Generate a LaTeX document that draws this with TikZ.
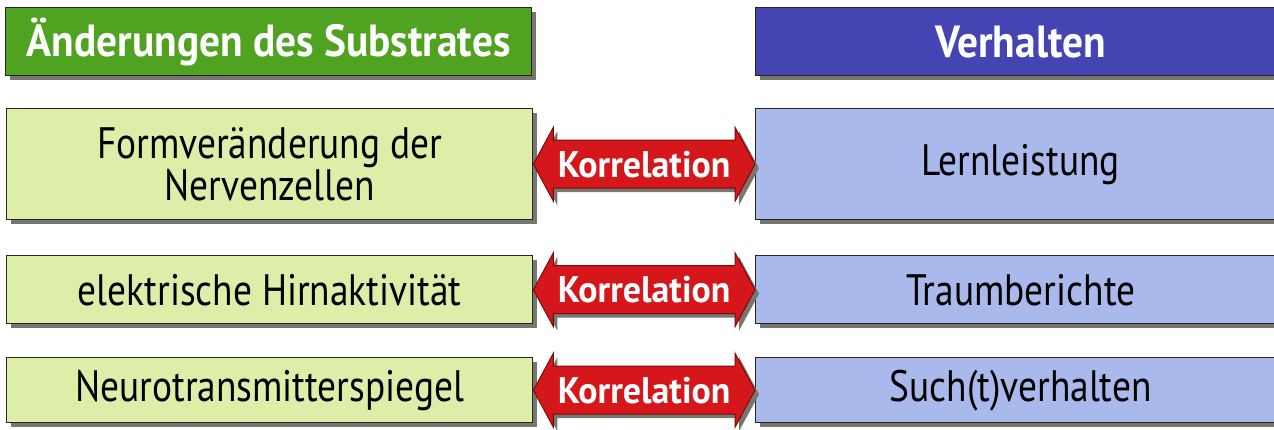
\documentclass[tikz,border=0pt]{standalone}
\usepackage{fontspec}
\setmainfont{PT Sans}
\newfontfamily\rowfont[FakeStretch=0.85]{PT Sans}
\newfontfamily\headfont[FakeStretch=0.92]{PT Sans Bold}
\newfontfamily\corrfont[FakeStretch=0.97]{PT Sans Bold}
\usetikzlibrary{calc,shadows}
\definecolor{hgreen}{HTML}{4FA321}
\definecolor{hblue}{HTML}{4444B2}
\definecolor{lgreen}{HTML}{DDEEA9}
\definecolor{lblue}{HTML}{A9B9EC}
\definecolor{ared}{HTML}{D5161A}
\definecolor{adark}{HTML}{7A0A0A}
\definecolor{shad}{HTML}{77776F}
\begin{document}
\begin{tikzpicture}[x=1pt,y=-1pt,
  shd/.style={drop shadow={shadow xshift=4pt,shadow yshift=-4pt,fill=shad,opacity=1}},
  box/.style={draw=black!85,line width=1.4pt,inner sep=0pt,anchor=north west,align=center,shd,
    font=\rowfont\fontsize{44}{42}\selectfont},
  lbox/.style={box,fill=lgreen,minimum width=526pt},
  rbox/.style={box,fill=lblue,minimum width=530pt},
  head/.style={box,text=white,font=\headfont\fontsize{45}{45}\selectfont},
  corr/.style={fill=ared,draw=adark,line width=1pt,line join=miter,shd},
  corrtext/.style={text=white,font=\corrfont\fontsize{37}{37}\selectfont,inner sep=0pt}
]
\useasboundingbox (0,0) rectangle (1274,429);
% headers
\node[head,fill=hgreen,minimum width=526pt,minimum height=68pt] (hl) at (5,7) {Änderungen des Substrates};
\node[head,fill=hblue,minimum width=530pt,minimum height=68pt] (hr) at (755,7) {Verhalten};
% rows
\node[lbox,minimum height=111pt] (l1) at (6,108) {Formveränderung der\\Nervenzellen};
\node[rbox,minimum height=111pt] (r1) at (755,108) {Lernleistung};
\node[lbox,minimum height=68pt] (l2) at (6,255) {elektrische Hirnaktivität};
\node[rbox,minimum height=68pt] (r2) at (755,255) {Traumberichte};
\node[lbox,minimum height=65pt] (l3) at (6,357) {Neurotransmitterspiegel};
\node[rbox,minimum height=65pt] (r3) at (755,357) {Such(t)verhalten};
% arrows
\foreach \i in {1,2,3}{
  \path[corr] (l\i.east) -- ++(20,-37) -- ++(0,13) -- ($(r\i.west)+(-20,-24)$) -- ++(0,-13)
     -- (r\i.west) -- ++(-20,37) -- ++(0,-13) -- ($(l\i.east)+(20,24)$) -- ++(0,13) -- cycle;
  \node[corrtext] (k\i) at ($(l\i.east)!0.5!(r\i.west)$) {Korrelation};
}
\end{tikzpicture}
\end{document}
